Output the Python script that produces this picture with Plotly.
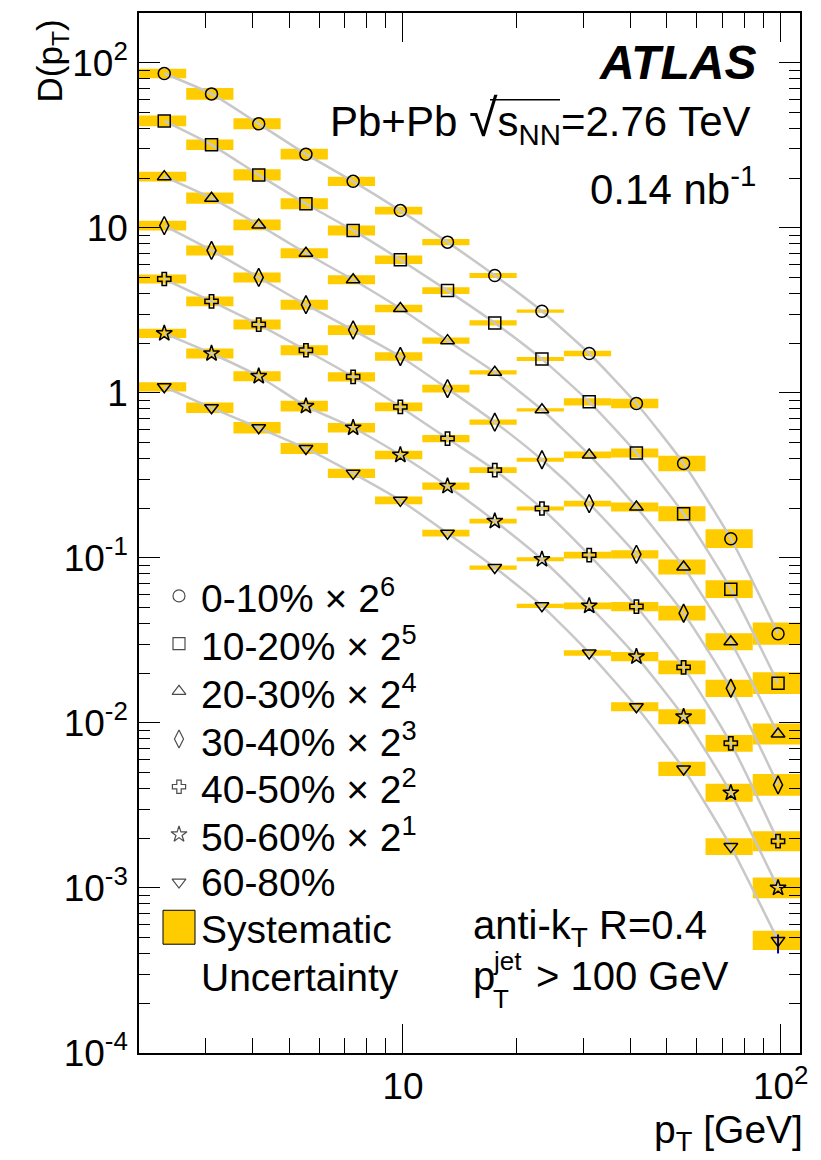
import plotly.graph_objects as go

# ---------------- data ----------------
bin_edges = [2.0, 2.667, 3.557, 4.743, 6.325, 8.434, 11.25, 15.0, 20.0,
             26.67, 35.57, 47.43, 63.25, 84.34, 112.5]
pt_centers = [2.333, 3.112, 4.150, 5.534, 7.379, 9.84, 13.12, 17.5, 23.33,
              31.12, 41.5, 55.34, 73.79, 98.42]

series_names = ["0-10% × 2<sup>6</sup>", "10-20% × 2<sup>5</sup>", "20-30% × 2<sup>4</sup>",
                "30-40% × 2<sup>3</sup>", "40-50% × 2<sup>2</sup>", "50-60% × 2<sup>1</sup>",
                "60-80%"]
series_symbols = ["circle-open", "square-open", "triangle-up-open", "diamond-tall-open",
                  "cross-open", "star-open", "triangle-down-open"]

d_0_10 = [86, 64.7, 42.6, 27.9, 19.1, 12.7, 8.18, 5.14, 3.12, 1.73, 0.861, 0.373, 0.1306, 0.0347]
d_10_20 = [44.4, 31.8, 20.9, 13.97, 9.63, 6.40, 4.16, 2.65, 1.60, 0.881, 0.432, 0.185, 0.0646, 0.0174]
d_20_30 = [20.4, 15.1, 10.4, 7.01, 4.84, 3.24, 2.07, 1.33, 0.789, 0.420, 0.203, 0.0881, 0.0310, 0.00857]
d_30_40 = [10.3, 7.29, 5.00, 3.42, 2.40, 1.66, 1.06, 0.664, 0.393, 0.213, 0.105, 0.0462, 0.0162, 0.00421]
d_40_50 = [4.89, 3.58, 2.59, 1.81, 1.25, 0.822, 0.528, 0.340, 0.199, 0.104, 0.0507, 0.0217, 0.00752, 0.00192]
d_50_60 = [2.29, 1.73, 1.26, 0.830, 0.614, 0.420, 0.272, 0.167, 0.098, 0.0512, 0.0252, 0.0109, 0.00377, 0.00100]
d_60_80 = [1.087, 0.811, 0.614, 0.460, 0.325, 0.223, 0.141, 0.0873, 0.0512, 0.0265, 0.01253, 0.00526, 0.00178, 0.000481]

# relative systematic uncertainty [%]
sys_0_10 = [6.7, 8.5, 8.0, 7.7, 6.7, 5.5, 4.5, 3.5, 2.3, 4.0, 6.7, 11.3, 13.9, 16.8]
sys_10_20 = [7.7, 7.7, 8.2, 8.0, 7.2, 6.0, 4.8, 3.8, 2.8, 5.2, 6.5, 11.0, 13.1, 16.3]
sys_20_30 = [7.0, 8.2, 7.7, 7.2, 6.5, 5.5, 4.3, 3.0, 2.3, 4.8, 6.5, 11.0, 12.6, 15.7]
sys_30_40 = [7.2, 7.2, 7.2, 7.2, 7.0, 6.0, 5.5, 3.8, 2.8, 4.0, 6.0, 10.8, 12.8, 16.3]
sys_40_50 = [6.5, 7.2, 7.2, 7.2, 6.7, 6.2, 5.2, 4.0, 2.8, 4.8, 6.7, 10.2, 12.3, 14.9]
sys_50_60 = [6.7, 7.2, 7.2, 7.7, 6.7, 6.0, 5.2, 3.3, 2.8, 4.8, 6.7, 11.0, 13.4, 15.5]
sys_60_80 = [6.7, 7.7, 8.2, 8.0, 6.7, 5.5, 4.8, 3.0, 3.0, 4.0, 6.5, 10.5, 12.3, 14.4]

# statistical error (only visible one: last 60-80% point)
stat_up_60_80 = [0] * 13 + [0.000042]
stat_dn_60_80 = [0] * 13 + [0.000080]

y_tickvals = [1e-4, 1e-3, 1e-2, 1e-1, 1, 10, 100]
y_ticktext = ["10<sup>-4</sup>", "10<sup>-3</sup>", "10<sup>-2</sup>", "10<sup>-1</sup>", "1", "10", "10<sup>2</sup>"]
x_tickvals = [10, 100]
x_ticktext = ["10", "10<sup>2</sup>"]
x_minor = [3, 4, 5, 6, 7, 8, 9, 20, 30, 40, 50, 60, 70, 80, 90]
y_minor = [m * 10.0 ** e for e in range(-4, 3) for m in range(2, 10)]

values = [d_0_10, d_10_20, d_20_30, d_30_40, d_40_50, d_50_60, d_60_80]
systs = [sys_0_10, sys_10_20, sys_20_30, sys_30_40, sys_40_50, sys_50_60, sys_60_80]

# ---------------- style ----------------
FONT = "Liberation Sans, Arial, Helvetica, sans-serif"
YELLOW = "#ffcc00"
GREY = "#c8c8c8"
PAGE_OFF = 8                 # default body margin of the html page
W, H = 821 - PAGE_OFF, 1160 - PAGE_OFF
L, R, T, B = 139, 800, 11, 1053   # plot frame in screen pixels

# legend layout (screen pixels)
LEG_MARKER_X = 179
LEG_TEXT_X = 199
LEG_ROW0 = 595
LEG_STEP = 47.8


def px(x):
    return (x - L) / (R - L)


def py(y):
    return (B - y) / (B - T)


fig = go.Figure()

# systematic boxes
for vals, sy in zip(values, systs):
    bx, by = [], []
    for i, v in enumerate(vals):
        f = 1 + sy[i] / 100.0
        lo, hi = v / f, v * f
        x0, x1 = bin_edges[i], bin_edges[i + 1]
        bx += [x0, x1, x1, x0, x0, None]
        by += [lo, lo, hi, hi, lo, None]
    fig.add_trace(go.Scatter(x=bx, y=by, mode="lines", fill="toself", fillcolor=YELLOW,
                             line=dict(width=0, color=YELLOW), hoverinfo="skip",
                             showlegend=False))

# grey curves
for vals in values:
    fig.add_trace(go.Scatter(x=pt_centers, y=vals, mode="lines",
                             line=dict(color=GREY, width=2.5, shape="spline", smoothing=0.6),
                             hoverinfo="skip", showlegend=False))


def msize(sym):
    if sym.startswith("diamond"):
        return 13
    if sym.startswith("cross"):
        return 11
    return 12


# markers
for k, (vals, name, sym) in enumerate(zip(values, series_names, series_symbols)):
    kw = {}
    if k == 6:
        kw["error_y"] = dict(type="data", symmetric=False, array=stat_up_60_80,
                             arrayminus=stat_dn_60_80, color="#0000aa", thickness=2, width=0)
    fig.add_trace(go.Scatter(x=pt_centers, y=vals, mode="markers", name=name,
                             marker=dict(symbol=sym, size=msize(sym), color="black",
                                         line=dict(width=1.5, color="black")),
                             showlegend=False, **kw))

# legend keys (drawn on a hidden overlay axis in plot-fraction units)
leg_x = [px(LEG_MARKER_X)] * len(series_symbols)
leg_y = [py(LEG_ROW0 + LEG_STEP * i) for i in range(len(series_symbols))]
fig.add_trace(go.Scatter(x=leg_x, y=leg_y, mode="markers", xaxis="x2", yaxis="y2",
                         marker=dict(symbol=series_symbols, size=[msize(s) for s in series_symbols],
                                     color="black", line=dict(width=1.2, color="black")),
                         hoverinfo="skip", showlegend=False))

axis_common = dict(
    type="log", showgrid=False, zeroline=False, showline=True, linecolor="black",
    linewidth=1.5, ticks="inside", mirror="allticks", tickcolor="black", tickwidth=1.2,
    tickfont=dict(family=FONT, size=37, color="black"),
)

fig.update_layout(
    xaxis=dict(**axis_common, range=[0.30103, 2.0512], tickmode="array", tickvals=x_tickvals,
               ticktext=x_ticktext, ticklen=29, ticklabelstandoff=0,
               minor=dict(tickmode="array", tickvals=x_minor, ticks="inside", ticklen=15,
                          tickcolor="black", tickwidth=1.2, showgrid=False)),
    yaxis=dict(**axis_common, range=[-4, 2.301], tickmode="array", tickvals=y_tickvals,
               ticktext=y_ticktext, ticklen=21, ticklabelstandoff=2,
               minor=dict(tickmode="array", tickvals=y_minor, ticks="inside", ticklen=11,
                          tickcolor="black", tickwidth=1.2, showgrid=False)),
    xaxis2=dict(overlaying="x", range=[0, 1], visible=False, anchor="y2"),
    yaxis2=dict(overlaying="y", range=[0, 1], visible=False, anchor="x2"),
)

ann = []


def add_text(text, x, y, size=40, xanchor="left", yanchor="middle", angle=0):
    ann.append(dict(text=text, x=px(x), y=py(y), xref="paper", yref="paper",
                    xanchor=xanchor, yanchor=yanchor, showarrow=False, textangle=angle,
                    font=dict(family=FONT, size=size, color="black")))


add_text("<b><i>ATLAS</i></b>", 758, 61, size=48, xanchor="right")
add_text("Pb+Pb <span style='font-size:52px'>√</span>s<sub>NN</sub>=2.76 TeV", 753, 118,
         size=42, xanchor="right")
add_text("0.14 nb<sup>-1</sup>", 758, 184, size=42, xanchor="right")
add_text("anti-k<sub>T</sub> R=0.4", 471, 928, size=40)
add_text("p", 471, 976, size=40)
add_text("jet", 491, 961, size=26)
add_text("T", 491, 999, size=26)
add_text("> 100 GeV", 534, 976, size=40)
add_text("p<sub>T</sub> [GeV]", 805, 1133, size=39, xanchor="right")
add_text("D(p<sub>T</sub>)", 52, 16, size=35, xanchor="center", yanchor="top", angle=-90)

# manual legend texts
for i, name in enumerate(series_names):
    add_text(name, LEG_TEXT_X, LEG_ROW0 + LEG_STEP * i, size=39)
add_text("Systematic", LEG_TEXT_X, LEG_ROW0 + LEG_STEP * 7, size=39)
add_text("Uncertainty", LEG_TEXT_X, LEG_ROW0 + LEG_STEP * 8, size=39)

shapes = [
    # sqrt overline
    dict(type="line", xref="paper", yref="paper", x0=px(490), x1=px(560), y0=py(98), y1=py(98),
         line=dict(color="black", width=1.5)),
    # systematic legend swatch
    dict(type="rect", xref="paper", yref="paper", x0=px(163), x1=px(195), y0=py(944), y1=py(910),
         fillcolor=YELLOW, line=dict(color="black", width=1)),
]

fig.update_layout(
    width=W, height=H,
    margin=dict(l=L - PAGE_OFF, r=W - (R - PAGE_OFF), t=T - PAGE_OFF, b=H - (B - PAGE_OFF)),
    paper_bgcolor="white", plot_bgcolor="white",
    font=dict(family=FONT, color="black"),
    annotations=ann, shapes=shapes, showlegend=False,
)

fig.write_html("out.html")
